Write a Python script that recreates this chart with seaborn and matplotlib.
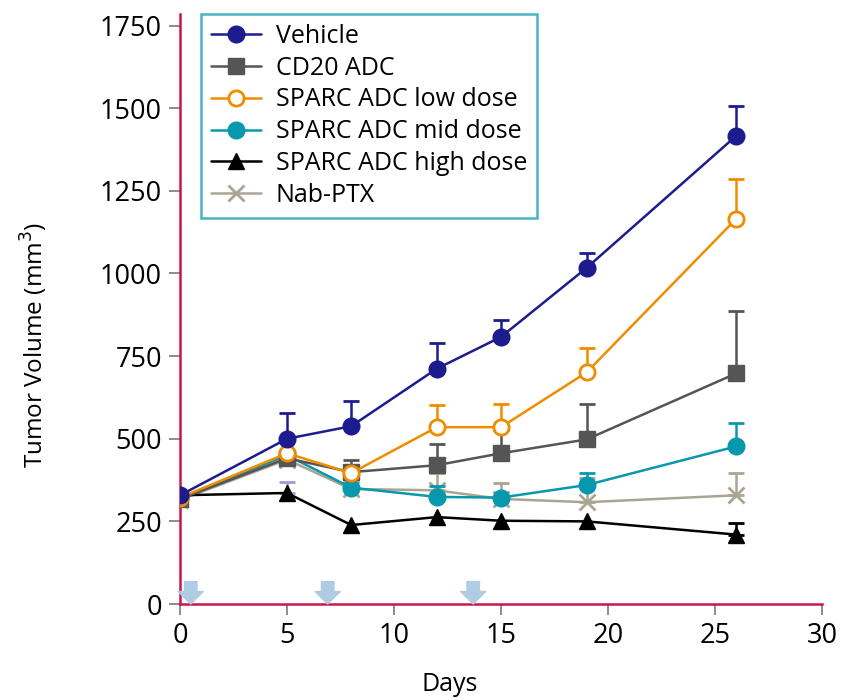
import matplotlib
matplotlib.use("Agg")
import matplotlib.pyplot as plt
import seaborn as sns
import numpy as np
import pandas as pd

# ---- data ----
days = [0, 5, 8, 12, 15, 19, 26]
series_names = ["Vehicle", "CD20 ADC", "SPARC ADC low dose", "SPARC ADC mid dose",
                "SPARC ADC high dose", "Nab-PTX"]
vehicle = [329, 500, 538, 712, 808, 1017, 1417]
vehicle_err = [0, 77, 77, 78, 50, 45, 91]
cd20 = [318, 441, 399, 420, 456, 498, 698]
cd20_err = [0, 0, 36, 63, 70, 106, 187]
low_dose = [322, 456, 396, 535, 535, 701, 1166]
low_dose_err = [0, 0, 0, 66, 69, 75, 121]
mid_dose = [320, 450, 352, 324, 322, 360, 477]
mid_dose_err = [0, 0, 0, 32, 0, 36, 70]
high_dose = [329, 336, 239, 263, 252, 250, 210]
high_dose_err = [0, 32, 0, 0, 0, 0, 35]
nab_ptx = [315, 437, 348, 344, 318, 308, 329]
nab_ptx_err = [0, 0, 0, 51, 47, 72, 66]
dosing_days = [0.5, 6.9, 13.7]
y_ticks = [0, 250, 500, 750, 1000, 1250, 1500, 1750]
x_ticks = [0, 5, 10, 15, 20, 25, 30]

sns.set_style("ticks")
plt.rcParams["font.family"] = ["Open Sans", "DejaVu Sans"]
plt.rcParams["text.color"] = "black"
plt.rcParams["axes.labelcolor"] = "black"
plt.rcParams["xtick.labelcolor"] = "black"
plt.rcParams["ytick.labelcolor"] = "black"

fig = plt.figure(figsize=(8.52, 7), dpi=100)
ax = fig.add_axes([0.2113, 0.1371, 0.7535, 0.8429])

styles = [
    dict(vals=vehicle, err=vehicle_err, color="#1c1c8e", marker="o", mfc="#1c1c8e", ms=11, z=7),
    dict(vals=cd20, err=cd20_err, color="#555555", marker="s", mfc="#555555", ms=11, z=5),
    dict(vals=low_dose, err=low_dose_err, color="#f08c00", marker="o", mfc="white", ms=11, z=6),
    dict(vals=mid_dose, err=mid_dose_err, color="#0898ae", marker="o", mfc="#0898ae", ms=11, z=4),
    dict(vals=high_dose, err=high_dose_err, color="black", marker="^", mfc="black", ms=11, z=3),
    dict(vals=nab_ptx, err=nab_ptx_err, color="#aaa592", marker="x", mfc="#aaa592", ms=12, z=2),
]

for name, st in zip(series_names, styles):
    df = pd.DataFrame({"Days": days, "vol": st["vals"], "err": st["err"]})
    sub = df[df["err"] > 0]
    for _, r in sub.iterrows():
        ec = st["color"]
        if name == "SPARC ADC high dose" and r["Days"] == 5:
            ec = "#a898d0"
        ax.errorbar([r["Days"]], [r["vol"]], yerr=[[0], [r["err"]]], fmt="none",
                    ecolor=ec, elinewidth=1.8, capsize=6, capthick=2.0, zorder=st["z"] - 0.5)
    sns.lineplot(data=df, x="Days", y="vol", ax=ax, color=st["color"], linewidth=1.8,
                 marker=st["marker"], markersize=st["ms"], markerfacecolor=st["mfc"],
                 markeredgecolor=st["color"], markeredgewidth=2 if st["marker"] in ("o", "x") else 1,
                 label=name, zorder=st["z"], errorbar=None)

for d in dosing_days:
    ax.annotate("", xy=(d, 0), xytext=(d, 68),
                arrowprops=dict(arrowstyle="simple,head_length=0.5,head_width=1.0,tail_width=0.5",
                                color="#aecde3", shrinkA=0, shrinkB=0, mutation_scale=18),
                zorder=8)

ax.set_xlim(0, 30)
ax.set_ylim(0, 1785)
ax.set_xticks(x_ticks)
ax.set_yticks(y_ticks)
ax.set_xlabel("Days", fontsize=18)
ax.set_ylabel("Tumor Volume (mm$^3$)", fontsize=17.5)
ax.xaxis.set_label_coords(0.42, -0.115)
ax.yaxis.set_label_coords(-0.203, 0.439)
ax.tick_params(axis="both", labelsize=19.5, length=8, width=1.4, color="#8c8c8c", pad=5)
for s in ["top", "right"]:
    ax.spines[s].set_visible(False)
for s in ["left", "bottom"]:
    ax.spines[s].set_color("#c8174a")
    ax.spines[s].set_linewidth(1.8)

leg = ax.legend(loc="upper left", bbox_to_anchor=(0.032, 1.0), fontsize=18, frameon=True,
                fancybox=False, edgecolor="#1aa0b4", handlelength=2.0, handletextpad=0.6,
                labelspacing=0.27, borderpad=0.4, borderaxespad=0.0)
leg.get_frame().set_linewidth(1.8)

fig.savefig("out.png", dpi=100)
